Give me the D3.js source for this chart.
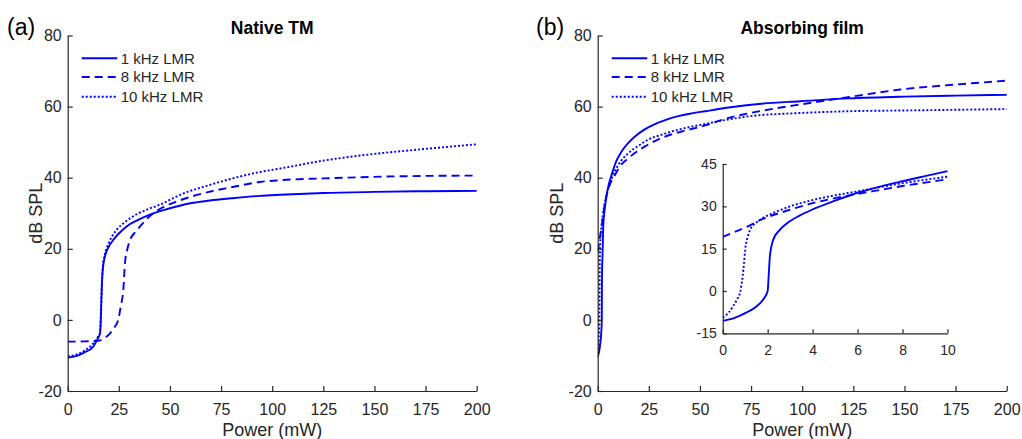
<!DOCTYPE html>
<html>
<head>
<meta charset="utf-8">
<script src="https://cdn.jsdelivr.net/npm/d3@7"></script>
<style>
  html, body { margin: 0; padding: 0; background: #fff; }
  svg { display: block; font-family: "Liberation Sans", Arial, sans-serif; }
</style>
</head>
<body>
<svg id="chart" width="1022" height="439"></svg>
<script>
// ---------- data ----------
const seriesNames = ["1 kHz LMR", "8 kHz LMR", "10 kHz LMR"];
const mainXTicks = [0, 25, 50, 75, 100, 125, 150, 175, 200];
const mainYTicks = [-20, 0, 20, 40, 60, 80];
const insetXTicks = [0, 2, 4, 6, 8, 10];
const insetYTicks = [-15, 0, 15, 30, 45];

// Panel (a) Native TM  [power mW, dB SPL]
const nativeLMR1k = [[0,-10.6],[4,-10.2],[8,-9.2],[12.5,-7.5],[14.5,-5.5],[15.8,-3.8],[16.2,0],[16.5,6],[16.8,11],[17.2,14.5],[18.2,17.8],[20,20.5],[22.3,22.5],[25,24.3],[28.8,26.3],[34,28],[40.2,29.6],[47,30.9],[53.3,31.9],[60,32.8],[69.6,33.6],[80,34.2],[94,34.9],[104,35.2],[125,35.7],[150,36],[175,36.2],[200,36.3]];
const nativeLMR8k = [[0,-6.1],[5,-6.1],[10,-6.0],[14.6,-5.9],[17.5,-5.3],[20.7,-3.8],[23,-2],[24.7,0],[26,4],[27.2,8.5],[28,16],[29,19.5],[30.5,22.5],[33,24.7],[35.4,26.3],[38.5,28.3],[41.9,30],[47,31.8],[53.3,33.3],[60,34.6],[69.6,36.1],[80,37.3],[94,38.8],[104,39.3],[125,39.8],[147,40.2],[175,40.5],[200,40.6]];
const nativeLMR10k = [[0,-10.2],[4,-9.8],[8,-8.7],[12.5,-6.6],[14.5,-5],[15.8,-3.5],[16.2,2],[16.6,9],[17.2,15],[18.2,18.5],[20,21.5],[24,25.4],[28,27.5],[34,29.8],[40,31.3],[45.1,32.4],[55,35.2],[69.6,38],[80,39.7],[94,41.6],[104,42.6],[125,44.8],[147,46.5],[175,48.1],[200,49.4]];

// Panel (b) Absorbing film
const filmLMR1k = [[0,-10.5],[1,-7.8],[1.8,-3],[2,0],[2.1,12],[2.4,19],[2.7,26],[3.5,31.5],[4.4,35.2],[5.5,38.3],[6.8,40.8],[9,44.5],[11.7,47.4],[15,49.8],[18.2,51.6],[23,53.6],[28,55.1],[33,56.2],[39.4,57.3],[45,58],[52.5,58.7],[65,59.8],[80,60.8],[99,61.5],[123,62.3],[150,62.8],[175,63.1],[200,63.3]];
const filmLMR8k = [[0,19.2],[1.8,25.9],[3.6,33],[5,36.5],[8.5,40.8],[11,43.3],[15,45.5],[19,47.3],[23.1,48.8],[31.3,51.2],[41.1,53],[52.5,54.7],[62,56.5],[74.5,58.2],[87,59.5],[99,60.6],[123,62.7],[148,64.8],[175,66.2],[200,67.3]];
const filmLMR10k = [[0,-9.4],[0.5,-5.3],[0.77,-0.6],[0.9,5.3],[1,14.7],[1.22,21.7],[1.8,25.9],[3,31.5],[4.5,35.5],[7,40],[10,43.5],[15,46.9],[20,49],[25,50.8],[31.3,52.1],[40,53.6],[52.5,55.1],[62,56.2],[74.5,57.3],[99,58.2],[123,58.7],[148,58.9],[175,59.1],[200,59.3]];

// Inset of panel (b), 0-10 mW
const insetLMR1k = [[0,-10.6],[0.5,-9.6],[1.07,-7.6],[1.5,-5.5],[1.81,-2.9],[2.0,0],[2.05,6],[2.1,12.3],[2.25,18.2],[2.5,21.3],[2.85,23.9],[3.4,26.6],[4,28.9],[5,32.0],[6,34.8],[7,37.0],[8,38.9],[9,40.7],[10,42.5]];
const insetLMR8k = [[0,19.2],[1,22.5],[1.81,25.6],[3,28.8],[4.04,31.2],[5,32.9],[6,34.4],[7,35.8],[8,37.2],[9,38.4],[10,39.6]];
const insetLMR10k = [[0,-9.4],[0.25,-7.8],[0.47,-5.3],[0.65,-2.8],[0.77,-0.6],[0.83,2],[0.89,5.3],[0.95,10],[1.0,14.7],[1.1,18.8],[1.22,21.7],[1.5,24.3],[1.8,25.9],[2.5,28.5],[3,30],[4.04,32.3],[5,33.9],[6,35.3],[7,36.8],[8,38.2],[9,39.4],[10,40.5]];

// ---------- styling ----------
const AX = "#262626";
const BLUE = "#0000ff";
const dashes = [null, "8,5", "2,2"];

const svg = d3.select("#chart");

function styleAxis(g, fontSize) {
  g.select(".domain").attr("stroke", AX).attr("stroke-width", 1.2);
  g.selectAll(".tick line").attr("stroke", AX).attr("stroke-width", 1.2);
  g.selectAll(".tick text").attr("fill", AX).attr("font-size", fontSize).attr("font-family", "Liberation Sans, Arial, sans-serif");
}

function drawAxes(opts) {
  const {x0, x1, y0, y1, xDomain, yDomain, xTicks, yTicks, tickLen, fontSize, xPad, yPad, series, white} = opts;
  const x = d3.scaleLinear().domain(xDomain).range([x0, x1]);
  const y = d3.scaleLinear().domain(yDomain).range([y1, y0]);
  const g = svg.append("g");
  if (white) {
    g.append("rect").attr("x", x0).attr("y", y0).attr("width", x1 - x0).attr("height", y1 - y0).attr("fill", "#fff");
  }
  const clipId = "clip" + Math.round(x0) + "_" + Math.round(y0);
  svg.append("clipPath").attr("id", clipId).append("rect")
    .attr("x", x0).attr("y", y0 - 2).attr("width", x1 - x0 + 2).attr("height", y1 - y0 + 4);
  const line = d3.line().x(d => x(d[0])).y(d => y(d[1])).curve(d3.curveMonotoneX);
  series.forEach((s, i) => {
    g.append("path").datum(s).attr("d", line)
      .attr("fill", "none").attr("stroke", BLUE).attr("stroke-width", 1.9)
      .attr("stroke-dasharray", dashes[i]).attr("clip-path", `url(#${clipId})`);
  });
  const gx = g.append("g").attr("transform", `translate(0,${y1})`)
    .call(d3.axisBottom(x).tickValues(xTicks).tickSizeInner(-tickLen).tickSizeOuter(0).tickPadding(xPad).tickFormat(d3.format("d")));
  styleAxis(gx, fontSize);
  const gy = g.append("g").attr("transform", `translate(${x0},0)`)
    .call(d3.axisLeft(y).tickValues(yTicks).tickSizeInner(-tickLen).tickSizeOuter(0).tickPadding(yPad).tickFormat(d => d < 0 ? "-" + Math.abs(d) : d));
  styleAxis(gy, fontSize);
  return {x, y};
}

function legend(xLine, yRows) {
  seriesNames.forEach((name, i) => {
    svg.append("line").attr("x1", xLine).attr("x2", xLine + 35.5)
      .attr("y1", yRows[i]).attr("y2", yRows[i])
      .attr("stroke", BLUE).attr("stroke-width", 1.9).attr("stroke-dasharray", dashes[i]);
    svg.append("text").attr("x", xLine + 39).attr("y", yRows[i]).attr("dy", "0.35em")
      .attr("font-size", 15).attr("fill", AX).text(name);
  });
}

function panel(p) {
  const {x0, x1, label, title, series, labelX, yLabelX} = p;
  const y0 = 35.5, y1 = 391;
  drawAxes({x0, x1, y0, y1, xDomain: [0, 200], yDomain: [-20, 80], xTicks: mainXTicks, yTicks: mainYTicks,
    tickLen: 5, fontSize: 16, xPad: 12.6, yPad: 6, series});
  svg.append("text").attr("x", (x0 + x1) / 2).attr("y", 34).attr("text-anchor", "middle")
    .attr("font-size", 17.5).attr("font-weight", "bold").attr("fill", "#000").text(title);
  svg.append("text").attr("x", labelX).attr("y", 35).attr("font-size", 23).attr("fill", "#000").text(label);
  svg.append("text").attr("x", (x0 + x1) / 2).attr("y", 436).attr("text-anchor", "middle")
    .attr("font-size", 18).attr("fill", AX).text("Power (mW)");
  svg.append("text").attr("transform", `translate(${yLabelX},${(y0 + y1) / 2}) rotate(-90)`)
    .attr("text-anchor", "middle").attr("font-size", 18).attr("fill", AX).text("dB SPL");
  legend(x0 + 14, [58.3, 77, 96.7]);
}

panel({x0: 67.7, x1: 476.7, label: "(a)", title: "Native TM", labelX: 7,
  yLabelX: 42, series: [nativeLMR1k, nativeLMR8k, nativeLMR10k]});
panel({x0: 597.7, x1: 1006.7, label: "(b)", title: "Absorbing film", labelX: 536,
  yLabelX: 563, series: [filmLMR1k, filmLMR8k, filmLMR10k]});

// inset
drawAxes({x0: 722.7, x1: 947.5, y0: 164, y1: 333.3, xDomain: [0, 10], yDomain: [-15, 45],
  xTicks: insetXTicks, yTicks: insetYTicks, tickLen: 4, fontSize: 14, xPad: 12, yPad: 6,
  series: [insetLMR1k, insetLMR8k, insetLMR10k], white: true});
</script>
</body>
</html>
